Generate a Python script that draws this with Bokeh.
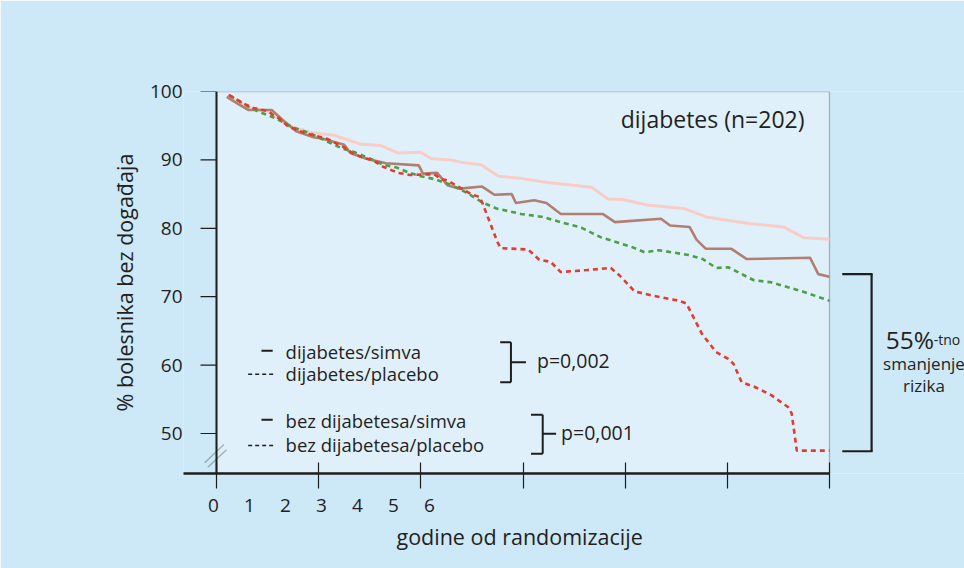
from bokeh.plotting import figure
from bokeh.models import (Range1d, LinearAxis, FixedTicker, BoxAnnotation, PolyAnnotation,
                          Label, Span, Title)
from bokeh.core.properties import value
from bokeh.embed import file_html
from bokeh.resources import INLINE

FONT = "Open Sans"
INK = "#231f20"
AX = "#1e1e1e"

# ---------------- data (years since randomisation, % event-free) ----------------
bez_simva_x = [0.11, 0.30, 0.53, 0.70, 0.92, 1.15, 1.41, 1.61, 1.78, 2.00, 2.10, 2.29, 2.41, 2.59,
               2.76, 2.98, 3.24, 3.67, 3.83, 3.98, 4.21, 4.57, 4.81, 5.21, 5.55, 5.75, 6.00]
bez_simva_y = [99.4, 97.7, 97.0, 95.0, 94.0, 93.6, 92.3, 92.1, 91.0, 91.1, 90.2, 90.0, 89.6, 89.3,
               87.6, 87.3, 86.7, 86.0, 84.3, 84.2, 83.4, 82.9, 81.6, 80.7, 80.2, 78.6, 78.4]

dij_simva_x = [0.10, 0.21, 0.31, 0.54, 0.66, 0.78, 0.95, 1.04, 1.25, 1.31, 1.46, 1.66, 1.98, 2.02,
               2.16, 2.26, 2.38, 2.60, 2.72, 2.89, 2.93, 3.11, 3.23, 3.37, 3.78, 3.90, 4.35, 4.44,
               4.63, 4.70, 4.79, 5.04, 5.19, 5.81, 5.89, 6.00]
dij_simva_y = [99.2, 98.2, 97.3, 97.3, 95.7, 94.2, 93.3, 93.1, 92.2, 91.0, 90.2, 89.5, 89.2, 88.0,
               88.1, 86.3, 85.8, 86.1, 84.9, 85.0, 83.7, 84.1, 83.7, 82.1, 82.1, 80.9, 81.4, 80.4,
               80.2, 78.3, 77.0, 77.0, 75.5, 75.7, 73.3, 72.9]

bez_placebo_x = [0.13, 0.32, 0.42, 0.51, 0.59, 0.70, 0.81, 0.90, 1.11, 1.24, 1.34, 1.50, 1.63, 1.76,
                 1.89, 2.00, 2.13, 2.29, 2.46, 2.60, 2.74, 2.98, 3.18, 3.37, 3.57, 3.76, 4.06, 4.19,
                 4.33, 4.62, 4.76, 4.89, 5.01, 5.26, 5.43, 5.66, 5.75, 6.00]
bez_placebo_y = [99.4, 97.7, 97.0, 96.5, 96.0, 95.1, 94.4, 94.0, 92.5, 91.6, 91.2, 90.2, 89.3, 88.9,
                 88.1, 87.6, 87.2, 86.4, 85.1, 83.8, 82.9, 82.1, 81.7, 80.9, 80.1, 78.7, 77.3, 76.5,
                 76.8, 76.1, 75.5, 74.2, 74.3, 72.4, 72.1, 71.1, 70.7, 69.4]

dij_placebo_x = [0.12, 0.20, 0.27, 0.36, 0.51, 0.54, 0.62, 0.70, 0.85, 0.95, 1.08, 1.24, 1.34, 1.44,
                 1.54, 1.63, 1.78, 1.89, 2.13, 2.20, 2.26, 2.33, 2.49, 2.57, 2.60, 2.68, 2.75, 2.78,
                 3.05, 3.13, 3.16, 3.27, 3.37, 3.63, 3.86, 3.96, 4.09, 4.25, 4.53, 4.60, 4.75, 4.89,
                 5.01, 5.06, 5.14, 5.27, 5.43, 5.60, 5.63, 5.68, 6.00]
dij_placebo_y = [99.5, 98.8, 98.2, 97.6, 97.1, 96.7, 96.0, 94.9, 94.0, 93.6, 93.1, 91.9, 90.9, 90.3,
                 89.9, 89.0, 88.1, 87.8, 87.9, 87.2, 87.0, 86.4, 85.0, 84.6, 83.8, 80.7, 78.0, 77.1,
                 76.9, 75.8, 75.4, 75.1, 73.6, 73.9, 74.2, 72.9, 70.8, 70.2, 69.4, 69.0, 64.6, 61.9,
                 60.9, 60.2, 57.5, 56.8, 55.6, 53.8, 52.9, 47.5, 47.5]

x_ticks = [0, 1, 2, 3, 4, 5, 6]
x_tick_labels = ["0", "1", "2", "3", "4", "5", "6"]
y_ticks = [50, 60, 70, 80, 90, 100]

legend_labels = ["dijabetes/simva", "dijabetes/placebo", "bez dijabetesa/simva", "bez dijabetesa/placebo"]
p_values = ["p=0,002", "p=0,001"]
final_simva_diab = 73.3
final_placebo_diab = 47.4

# ---------------- geometry ----------------
W, H = 964, 568
FRAME_L, FRAME_R, FRAME_T, FRAME_B = 183, 964, 91, 473
AXIS_X = 216                      # where year 0 / the y-axis line sits
PX_PER_YEAR = (829 - AXIS_X) / 6.0
x_start = -(AXIS_X - FRAME_L) / PX_PER_YEAR
x_end = (FRAME_R - AXIS_X) / PX_PER_YEAR
Y_MIN, Y_MAX = 44.15, 100

p = figure(width=W, height=H, output_backend="svg", toolbar_location=None,
           x_range=Range1d(x_start, x_end), y_range=Range1d(Y_MIN, Y_MAX),
           min_border_left=FRAME_L, min_border_right=W - FRAME_R,
           min_border_top=FRAME_T, min_border_bottom=H - FRAME_B,
           background_fill_color="#cde8f7", border_fill_color="#cde8f7",
           outline_line_color=None)
p.grid.visible = False

# plot panel (lighter) with thin top/right border
p.add_layout(BoxAnnotation(left=0, right=6, fill_color="#e0f0fb", fill_alpha=1,
                           line_color="#222222", line_width=1.3, level="underlay"))

# x axis: line + tick marks only
xa = p.xaxis[0]
xa.ticker = FixedTicker(ticks=[], minor_ticks=x_ticks)
xa.bounds = (x_start, 6)
xa.axis_line_width = 2.5
xa.axis_line_color = AX
xa.minor_tick_in = 11
xa.minor_tick_out = 15
xa.minor_tick_line_width = 1.2
xa.minor_tick_line_color = AX
xa.major_tick_line_color = None
xa.major_label_standoff = 0

# y axis: labels from the library axis; the axis line/ticks are placed at year 0
ya = p.yaxis[0]
ya.ticker = FixedTicker(ticks=y_ticks)
ya.axis_line_color = None
ya.major_tick_line_color = None
ya.minor_tick_line_color = None
ya.major_label_standoff = -5
ya.major_label_text_font = FONT
ya.major_label_text_font_size = "19px"
ya.major_label_text_color = INK
ya.axis_label = "% bolesnika bez događaja"
ya.axis_label_standoff = 8
ya.axis_label_text_font = FONT
ya.axis_label_text_font_size = "21.5px"
ya.axis_label_text_font_style = "normal"
ya.axis_label_text_color = INK

p.add_layout(Span(location=0, dimension="height", line_color=AX, line_width=2))
p.segment(x0=[-16 / PX_PER_YEAR] * len(y_ticks), y0=y_ticks, x1=[0] * len(y_ticks), y1=y_ticks,
          line_color=AX, line_width=1.2)

# year labels (compressed spacing, as in the original)
LBL_PX = 36.0
lbl_start = -(213 - FRAME_L) / LBL_PX
p.extra_x_ranges = {"yrs_lbl": Range1d(lbl_start, lbl_start + (FRAME_R - FRAME_L) / LBL_PX)}
lbl_axis = LinearAxis(x_range_name="yrs_lbl", ticker=FixedTicker(ticks=x_ticks),
                      major_label_overrides={t: s for t, s in zip(x_ticks, x_tick_labels)},
                      axis_line_color=None, major_tick_line_color=None, minor_tick_line_color=None,
                      major_label_standoff=4, major_label_text_font=FONT,
                      major_label_text_font_size="19px", major_label_text_color=INK)
p.add_layout(lbl_axis, "below")

p.add_layout(Title(text="godine od randomizacije", align="left", offset=396 - FRAME_L,
                   standoff=11, text_font=FONT, text_font_size="21.5px",
                   text_font_style="normal", text_color=INK), "below")

# ---------------- curves ----------------
p.line(bez_simva_x, bez_simva_y, line_color="#f8cdc6", line_width=3)
p.line(dij_simva_x, dij_simva_y, line_color="#b17f71", line_width=2.6)
p.line(bez_placebo_x, bez_placebo_y, line_color="#4c9e47", line_width=2.6, line_dash="5 4")
p.line(dij_placebo_x, dij_placebo_y, line_color="#e23b30", line_width=2.6, line_dash="5 4")

# ---------------- annotations ----------------
def lbl(x, y, text, size, align="left", baseline="middle"):
    p.add_layout(Label(x=x, y=y, text=text, text_font=FONT, text_font_size=size,
                       text_color=INK, text_align=align, text_baseline=baseline))

lbl(5.755, 96.05, "dijabetes (n=202)", "23px", align="right")

# legend
p.segment(x0=[0.44, 0.44], y0=[62.1, 52.0], x1=[0.55, 0.55], y1=[62.1, 52.0],
          line_color=AX, line_width=2)
p.segment(x0=[0.31, 0.31], y0=[58.65, 48.25], x1=[0.58, 0.58], y1=[58.65, 48.25],
          line_color=AX, line_width=1.5, line_dash="4 3")
for t, yy in zip(legend_labels, [61.95, 58.8, 51.85, 48.45]):
    lbl(0.676, yy, t, "18.5px")

# p-value brackets
bx = [2.882, 3.193]
btop = [63.35, 52.73]
bbot = [57.5, 47.03]
bleft = [2.777, 3.078]
bmid = [60.42, 49.96]
bmidr = [3.029, 3.324]
p.segment(x0=bx, y0=btop, x1=bx, y1=bbot, line_color=AX, line_width=2)
p.segment(x0=bleft, y0=btop, x1=bx, y1=btop, line_color=AX, line_width=2)
p.segment(x0=bleft, y0=bbot, x1=bx, y1=bbot, line_color=AX, line_width=2)
p.segment(x0=bx, y0=bmid, x1=bmidr, y1=bmid, line_color=AX, line_width=2)
for t, xx, yy in zip(p_values, [3.137, 3.373], bmid):
    lbl(xx, yy + 0.2, t, "19.5px")

# right-hand bracket: risk reduction between diabetic arms
p.segment(x0=[6.412], y0=[final_placebo_diab], x1=[6.412], y1=[final_simva_diab],
          line_color=AX, line_width=2.2)
p.segment(x0=[6.125, 6.125], y0=[final_simva_diab, final_placebo_diab],
          x1=[6.422, 6.422], y1=[final_simva_diab, final_placebo_diab],
          line_color=AX, line_width=2.2)

lbl(6.55, 63.75, "55%", "24.5px", baseline="alphabetic")
lbl(7.02, 63.75, "-tno", "14px", baseline="alphabetic")
lbl(6.925, 60.25, "smanjenje", "17px", align="center")
lbl(6.925, 56.95, "rizika", "17px", align="center")

# axis break marks
p.add_layout(PolyAnnotation(xs=[-0.115, 0.072], ys=[45.72, 48.39], fill_alpha=0,
                            line_color=AX, line_width=1.4))
p.add_layout(PolyAnnotation(xs=[-0.085, 0.098], ys=[45.07, 47.62], fill_alpha=0,
                            line_color=AX, line_width=1.4))

open("out.html", "w").write(file_html(p, INLINE))
